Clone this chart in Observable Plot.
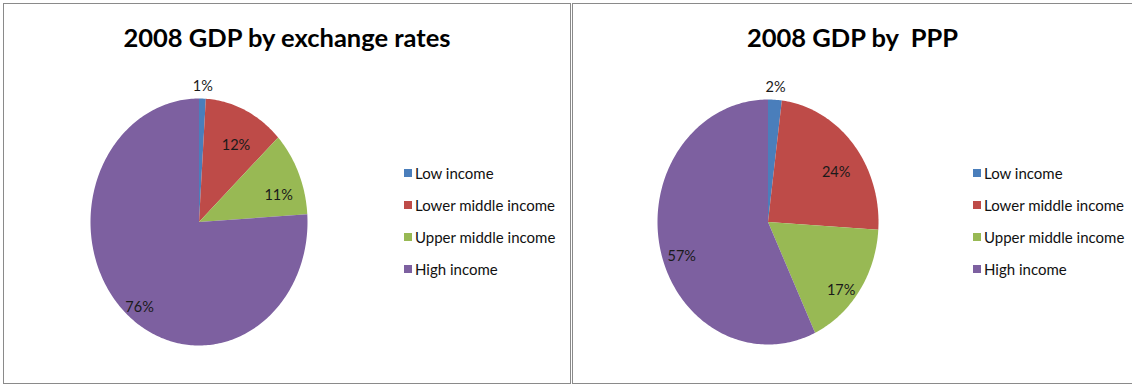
<!DOCTYPE html>
<html>
<head>
<meta charset="utf-8">
<script src="https://cdn.jsdelivr.net/npm/d3@7"></script>
<script src="https://cdn.jsdelivr.net/npm/@observablehq/plot@0.6"></script>
<style>
  html, body { margin: 0; padding: 0; background: #fff; }
  #page { position: relative; width: 1132px; height: 385px; overflow: hidden; font-family: Lato, "Open Sans", sans-serif; background: #fff; }
  .panel { position: absolute; top: 3px; height: 381px; border: 1px solid #8a8a8a; box-sizing: border-box; }
  .title { position: absolute; top: 22px; line-height: 30px; font-size: 25.5px; font-weight: bold; text-align: center; color: #000; white-space: pre; }
  .chart { position: absolute; top: 60px; }
  .sw { position: absolute; width: 8px; height: 8px; }
  .lab { position: absolute; font-size: 15px; line-height: 16px; color: #111; white-space: nowrap; }
</style>
</head>
<body>
<div id="page"></div>
<script>
// ---- data ----
const categories = ["Low income", "Lower middle income", "Upper middle income", "High income"];
const exchangeRateShares = [1, 12, 11, 76];
const pppShares = [2, 24, 17, 57];
const sliceColors = ["#4a7ebb", "#be4b48", "#98b954", "#7d60a0"];
const chartTitles = ["2008 GDP by exchange rates", "2008 GDP by  PPP"];

// ---- layout (page pixels) ----
const panels = [
  {left: 3, width: 568, titleWidth: 568, pieLeft: 90, pieRight: 307, pieTop: 98, pieBottom: 345, swatchX: 404, textX: 415, values: exchangeRateShares, title: chartTitles[0]},
  {left: 572, width: 600, titleWidth: 561, pieLeft: 657, pieRight: 878, pieTop: 99, pieBottom: 344, swatchX: 973, textX: 984, values: pppShares, title: chartTitles[1]}
];
const svgTop = 60, svgHeight = 310, svgWidth = 400;
const legendTop = 172.5, legendStep = 32;

const page = document.getElementById("page");

function slicePolygons(values) {
  const total = d3.sum(values);
  const pts = [];
  let acc = 0;
  values.forEach((v, i) => {
    const a0 = acc / total * 2 * Math.PI;
    const a1 = (acc + v) / total * 2 * Math.PI;
    const n = Math.max(2, Math.ceil(v / total * 360));
    pts.push({cat: categories[i], x: 0, y: 0});
    for (let k = 0; k <= n; k++) {
      const a = a0 + (a1 - a0) * k / n;
      pts.push({cat: categories[i], x: Math.sin(a), y: Math.cos(a)});
    }
    pts.push({cat: categories[i], x: 0, y: 0});
    acc += v;
  });
  return pts;
}

function sliceLabels(values) {
  const total = d3.sum(values);
  let acc = 0;
  return values.map((v, i) => {
    const mid = (acc + v / 2) / total * 2 * Math.PI;
    acc += v;
    const outside = v / total < 0.05;
    const r = outside ? 1.1 : 0.8;
    return {cat: categories[i], outside, text: d3.format(".0f")(v) + "%", x: r * Math.sin(mid), y: r * Math.cos(mid)};
  });
}

panels.forEach(p => {
  const box = document.createElement("div");
  box.className = "panel";
  box.style.left = p.left + "px";
  box.style.width = p.width + "px";
  page.appendChild(box);

  const t = document.createElement("div");
  t.className = "title";
  t.style.left = p.left + "px";
  t.style.width = p.titleWidth + "px";
  t.textContent = p.title;
  page.appendChild(t);

  const svgLeft = p.left;
  const labels = sliceLabels(p.values);
  const chart = Plot.plot({
    width: svgWidth,
    height: svgHeight,
    marginLeft: p.pieLeft - svgLeft,
    marginRight: svgLeft + svgWidth - p.pieRight,
    marginTop: p.pieTop - svgTop,
    marginBottom: svgTop + svgHeight - p.pieBottom,
    x: {domain: [-1, 1], axis: null},
    y: {domain: [-1, 1], axis: null},
    color: {domain: categories, range: sliceColors},
    style: {background: "transparent", overflow: "visible"},
    marks: [
      Plot.line(slicePolygons(p.values), {x: "x", y: "y", z: "cat", fill: "cat", stroke: "none", curve: "linear"}),
      Plot.text(labels.filter(d => !d.outside), {x: "x", y: "y", text: "text", dy: 13, fontSize: 14.5, fill: "#1a1a1a", fontFamily: "Lato, sans-serif"}),
      Plot.text(labels.filter(d => d.outside), {x: "x", y: "y", text: "text", fontSize: 14.5, fill: "#1a1a1a", fontFamily: "Lato, sans-serif"})
    ]
  });
  chart.classList.add("chart");
  chart.style.left = svgLeft + "px";
  chart.style.top = svgTop + "px";
  page.appendChild(chart);

  categories.forEach((c, i) => {
    const cy = legendTop + i * legendStep;
    const sw = document.createElement("div");
    sw.className = "sw";
    sw.style.left = p.swatchX + "px";
    sw.style.top = (cy - 4) + "px";
    sw.style.background = sliceColors[i];
    page.appendChild(sw);
    const lab = document.createElement("div");
    lab.className = "lab";
    lab.style.left = p.textX + "px";
    lab.style.top = (cy - 8) + "px";
    lab.textContent = c;
    page.appendChild(lab);
  });
});
</script>
</body>
</html>
